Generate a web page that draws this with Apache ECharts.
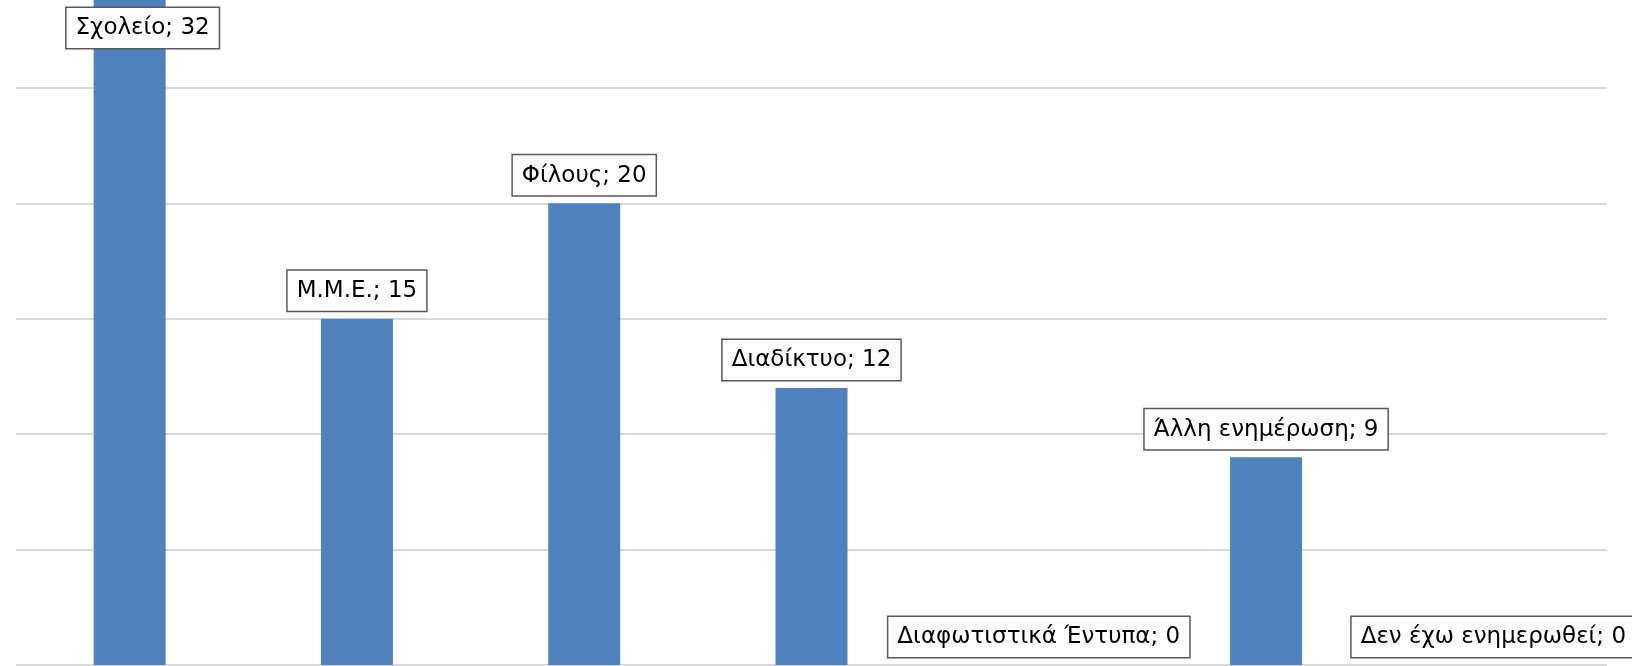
<!DOCTYPE html>
<html><head><meta charset="utf-8">
<script src="https://cdn.jsdelivr.net/npm/echarts@6/dist/echarts.min.js"></script>
<style>html,body{margin:0;padding:0;background:#fff}#c{width:1632px;height:666px}</style>
</head><body><div id="c"></div>
<script>
const categories = ["Σχολείο","Μ.Μ.Ε.","Φίλους","Διαδίκτυο","Διαφωτιστικά Έντυπα","Άλλη ενημέρωση","Δεν έχω ενημερωθεί"];
const values = [32, 15, 20, 12, 0, 9, 0];
const yMax = 28.81;

const chart = echarts.init(document.getElementById('c'), null, {renderer:'canvas'});
const data = values.map((v, i) => {
  const d = {value: v};
  if (v > yMax) d.label = {position: 'insideTop', distance: 8, offset: [13, 0]};
  return d;
});
chart.setOption({
  animation: false,
  grid: {left: 16, right: 25, top: 0, bottom: 1, containLabel: false},
  xAxis: {type: 'category', data: categories, axisLine: {show: false}, axisTick: {show: false}, axisLabel: {show: false}},
  yAxis: {type: 'value', min: 0, max: yMax, interval: 5, axisLabel: {show: false}, axisLine: {show: false}, axisTick: {show: false},
    splitLine: {show: true, showMaxLine: false, lineStyle: {color: '#D9D9D9', width: 2}}},
  series: [{
    type: 'bar', data: data, barWidth: 72, clip: true,
    itemStyle: {color: '#4F81BD'},
    label: {show: true, position: 'top', distance: 8,
      formatter: p => categories[p.dataIndex] + '; ' + p.value,
      fontFamily: 'DejaVu Sans', fontSize: 23, color: '#000',
      backgroundColor: '#fff', borderColor: '#595959', borderWidth: 1.5,
      padding: [9, 9, 8, 9]}
  }]
});
</script></body></html>
